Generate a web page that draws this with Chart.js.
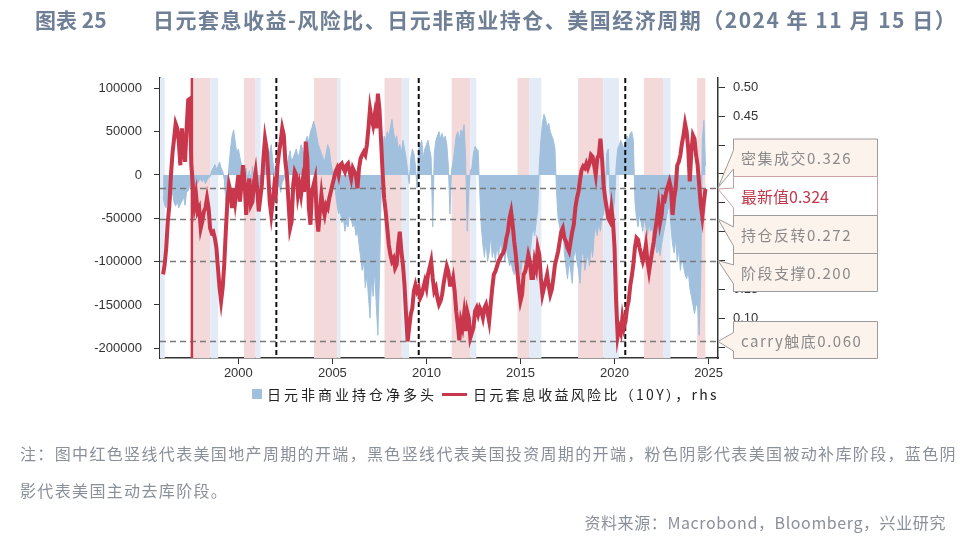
<!DOCTYPE html>
<html><head><meta charset="utf-8">
<script src="https://cdn.jsdelivr.net/npm/chart.js@4.4.0/dist/chart.umd.min.js"></script>
<style>
html,body{margin:0;padding:0;background:#fff;}
#wrap{position:relative;width:979px;height:539px;overflow:hidden;font-family:"Noto Sans CJK SC","Noto Sans",sans-serif;}
#c{position:absolute;left:0;top:0;}
.t{position:absolute;white-space:nowrap;line-height:1;}
</style></head><body>
<div id="wrap">
<canvas id="c" width="979" height="539"></canvas>
<div class="t" style="left:35px;top:9px;font-size:21px;font-weight:700;color:#6e7f96;">图表 25</div>
<div class="t" style="left:153px;top:9px;font-size:21px;font-weight:700;color:#6e7f96;letter-spacing:1.5px;">日元套息收益-风险比、日元非商业持仓、美国经济周期（2024 年 11 月 15 日）</div>
<div class="t" style="left:252px;top:389px;width:10px;height:10px;background:#a0c0de;"></div>
<div class="t" style="left:267px;top:387px;font-size:14px;color:#222;letter-spacing:3px;">日元非商业持仓净多头</div>
<div class="t" style="left:442px;top:393px;width:25px;height:3px;background:#c8374b;"></div>
<div class="t" style="left:473px;top:387px;font-size:14px;color:#222;letter-spacing:2.3px;">日元套息收益风险比（10Y），rhs</div>
<div class="t" style="left:20px;top:445px;font-size:16px;color:#8a9099;letter-spacing:1.35px;">注：图中红色竖线代表美国地产周期的开端，黑色竖线代表美国投资周期的开端，粉色阴影代表美国被动补库阶段，蓝色阴</div>
<div class="t" style="left:20px;top:482px;font-size:16px;color:#8a9099;letter-spacing:1.35px;">影代表美国主动去库阶段。</div>
<div class="t" style="right:33px;top:514px;font-size:16px;color:#8a9099;letter-spacing:0.6px;">资料来源：Macrobond，Bloomberg，兴业研究</div>
</div>
<script>
// ---- data ----
const startYear = 1996; // monthly series starting Jan 1996, ending Nov 2024
const riskRatio = [
0.176,0.193,0.222,0.268,0.296,0.348,0.386,0.411,0.437,0.429,0.406,0.365,
0.429,0.394,0.371,0.429,0.478,0.480,0.365,0.331,0.296,0.314,0.285,0.291,
0.256,0.268,0.285,0.291,0.308,0.291,0.256,0.248,0.250,0.239,0.222,0.187,
0.153,0.130,0.153,0.193,0.250,0.302,0.331,0.319,0.291,0.325,0.302,0.325,
0.348,0.302,0.331,0.365,0.337,0.279,0.319,0.342,0.296,0.302,0.337,0.354,
0.325,0.285,0.308,0.331,0.377,0.411,0.394,0.354,0.302,0.279,0.302,0.331,
0.319,0.365,0.388,0.406,0.429,0.417,0.371,0.348,0.302,0.256,0.268,0.331,
0.354,0.348,0.314,0.331,0.314,0.337,0.319,0.406,0.377,0.291,0.262,0.319,
0.331,0.342,0.279,0.250,0.285,0.314,0.291,0.279,0.296,0.291,0.308,0.319,
0.331,0.342,0.354,0.360,0.348,0.365,0.368,0.360,0.354,0.365,0.368,0.354,
0.342,0.360,0.354,0.348,0.325,0.360,0.377,0.383,0.388,0.383,0.400,0.429,
0.463,0.446,0.434,0.452,0.429,0.489,0.463,0.411,0.354,0.308,0.285,0.256,
0.227,0.210,0.199,0.204,0.187,0.193,0.227,0.250,0.216,0.193,0.158,0.107,
0.060,0.084,0.107,0.118,0.147,0.158,0.147,0.153,0.135,0.141,0.153,0.164,
0.153,0.176,0.187,0.199,0.170,0.147,0.153,0.135,0.124,0.130,0.141,0.161,
0.176,0.190,0.181,0.158,0.158,0.170,0.147,0.112,0.089,0.062,0.095,0.084,
0.107,0.078,0.112,0.101,0.066,0.075,0.084,0.112,0.118,0.107,0.118,0.112,
0.101,0.118,0.124,0.110,0.095,0.124,0.153,0.176,0.181,0.190,0.199,0.204,
0.210,0.213,0.222,0.239,0.250,0.273,0.285,0.262,0.233,0.210,0.181,0.153,
0.130,0.141,0.176,0.181,0.193,0.210,0.199,0.170,0.170,0.199,0.187,0.222,
0.210,0.170,0.141,0.153,0.164,0.176,0.156,0.141,0.150,0.170,0.193,0.204,
0.216,0.233,0.250,0.256,0.239,0.233,0.222,0.216,0.233,0.250,0.262,0.291,
0.308,0.319,0.340,0.357,0.363,0.360,0.368,0.360,0.368,0.383,0.380,0.365,
0.348,0.377,0.383,0.411,0.377,0.331,0.308,0.291,0.273,0.268,0.291,0.268,
0.222,0.130,0.069,0.084,0.075,0.101,0.084,0.095,0.118,0.130,0.156,0.173,
0.193,0.222,0.239,0.236,0.222,0.210,0.199,0.210,0.227,0.199,0.181,0.199,
0.216,0.233,0.253,0.271,0.294,0.265,0.279,0.308,0.305,0.319,0.328,0.337,
0.325,0.279,0.308,0.325,0.365,0.371,0.383,0.403,0.417,0.437,0.423,0.394,
0.337,0.388,0.417,0.411,0.383,0.365,0.331,0.296,0.276,0.302,0.324
];
const netLong = [
-25000,-35000,-38000,-30000,-22000,-28000,-20000,-32000,-36000,-30000,-38000,-34000,
-30000,-25000,-35000,-20000,-18000,-12000,-15000,-10000,-8000,-12000,-10000,-6000,
-5000,-8000,-4000,-10000,-6000,-3000,-2000,5000,8000,12000,7000,10000,
15000,8000,5000,-5000,-30000,-15000,10000,30000,45000,52000,38000,25000,
30000,20000,12000,5000,-5000,8000,-10000,5000,-15000,10000,-8000,-20000,
-15000,-25000,-10000,5000,15000,10000,20000,30000,25000,35000,15000,5000,
-5000,-15000,-10000,-20000,-8000,-5000,5000,10000,20000,28000,15000,20000,
25000,30000,20000,25000,35000,30000,20000,40000,45000,38000,50000,55000,
62000,55000,45000,35000,30000,25000,20000,15000,25000,35000,30000,15000,
5000,-10000,-20000,-35000,-45000,-40000,-55000,-50000,-65000,-55000,-60000,-45000,
-50000,-60000,-55000,-70000,-65000,-80000,-95000,-110000,-100000,-130000,-115000,-140000,
-165000,-120000,-140000,-110000,-150000,-185000,-120000,-30000,30000,45000,40000,50000,
45000,55000,64000,50000,40000,45000,30000,35000,25000,40000,30000,20000,
5000,-10000,20000,30000,25000,10000,-15000,30000,35000,40000,20000,30000,
35000,40000,30000,20000,-60000,25000,40000,45000,50000,42000,48000,40000,
45000,35000,10000,-45000,5000,15000,30000,45000,50000,40000,52000,48000,
58000,20000,-65000,-20000,5000,8000,25000,33000,30000,28000,-20000,-60000,
-80000,-95000,-75000,-100000,-90000,-70000,-95000,-85000,-100000,-80000,-95000,-75000,
-90000,-80000,-100000,-85000,-95000,-105000,-100000,-110000,-115000,-105000,-110000,-100000,
-115000,-100000,-95000,-110000,-90000,-80000,-95000,-75000,-60000,-70000,-55000,-40000,
10000,40000,60000,70000,65000,55000,60000,50000,45000,40000,30000,-20000,
-50000,-60000,-70000,-55000,-90000,-105000,-120000,-100000,-110000,-125000,-95000,-85000,
-100000,-110000,-125000,-95000,-85000,-110000,-100000,-90000,-105000,-80000,-95000,-70000,
-60000,-70000,-55000,-65000,-50000,-45000,-30000,25000,30000,-20000,-35000,-45000,
-30000,10000,30000,35000,40000,35000,30000,38000,45000,40000,48000,50000,
40000,-30000,-50000,-60000,-45000,-55000,-65000,-50000,-60000,-70000,-55000,-65000,
-60000,-75000,-80000,-90000,-85000,-93000,-80000,-70000,-60000,-50000,-40000,-35000,
-60000,-80000,-90000,-75000,-100000,-85000,-110000,-95000,-105000,-115000,-120000,-110000,
-130000,-140000,-150000,-160000,-150000,-150000,-185000,-120000,40000,63000,10000
];
const monthDates = riskRatio.map((_, i) => startYear + i / 12);
const xTickYears = [2000, 2005, 2010, 2015, 2020, 2025];
const leftTicks = [-200000, -150000, -100000, -50000, 0, 50000, 100000];
const rightTicks = [0.05, 0.10, 0.15, 0.20, 0.25, 0.30, 0.35, 0.40, 0.45, 0.50];
const pinkPeriods = [[1997.53,1998.52],[2000.30,2000.92],[2004.02,2005.26],[2007.77,2008.69],[2011.34,2012.33],[2014.84,2015.46],[2018.06,2019.40],[2021.56,2022.58],[2024.39,2024.83]];
const bluePeriods = [[1995.83,1996.09],[1998.52,1998.93],[2000.92,2001.18],[2005.26,2005.43],[2008.69,2009.08],[2012.33,2012.65],[2015.46,2016.11],[2019.40,2020.23],[2022.58,2022.97]];
const redCycleLines = [1997.53];
const blackCycleLines = [2002.02, 2009.59, 2020.57];
const levelLines = [0.326, 0.272, 0.200, 0.060];
const calloutLabels = ['密集成交', '最新值', '持仓反转', '阶段支撑', 'carry触底'];
const calloutValues = [0.326, 0.324, 0.272, 0.200, 0.060];

const RED = '#c8374b', BLUE = '#a0c0de';

const overlay = {
  id: 'overlay',
  beforeDatasetsDraw(chart) {
    const {ctx, chartArea: a, scales: {x}} = chart;
    ctx.save();
    const band = (arr, col) => {
      ctx.fillStyle = col;
      arr.forEach(([s, e]) => {
        const x0 = Math.max(a.left, x.getPixelForValue(s));
        const x1 = Math.min(a.right, x.getPixelForValue(e));
        ctx.fillRect(x0, a.top, x1 - x0, a.bottom - a.top);
      });
    };
    band(pinkPeriods, '#f4d9db');
    band(bluePeriods, '#e3ebf6');
    ctx.restore();
  },
  afterDatasetDraw(chart, args) {
    if (args.index !== 0) return;
    const {ctx, chartArea: a, scales: {x, y1}} = chart;
    ctx.save();
    ctx.beginPath(); ctx.rect(a.left, a.top, a.right - a.left, a.bottom - a.top); ctx.clip();
    ctx.strokeStyle = '#7a7a7a'; ctx.lineWidth = 1.5; ctx.setLineDash([6, 4]);
    levelLines.forEach(v => {
      const yy = Math.round(y1.getPixelForValue(v)) + 0.5;
      ctx.beginPath(); ctx.moveTo(a.left, yy); ctx.lineTo(a.right, yy); ctx.stroke();
    });
    ctx.strokeStyle = '#111'; ctx.lineWidth = 2; ctx.setLineDash([5, 3]);
    blackCycleLines.forEach(v => {
      const xx = x.getPixelForValue(v);
      ctx.beginPath(); ctx.moveTo(xx, a.top); ctx.lineTo(xx, a.bottom); ctx.stroke();
    });
    ctx.setLineDash([]); ctx.strokeStyle = RED; ctx.lineWidth = 2.5;
    redCycleLines.forEach(v => {
      const xx = x.getPixelForValue(v);
      ctx.beginPath(); ctx.moveTo(xx, a.top); ctx.lineTo(xx, a.bottom); ctx.stroke();
    });
    ctx.restore();
  },
  afterDraw(chart) {
    const {ctx, scales: {y1}} = chart;
    const boxes = [[139, 176.5], [176.5, 215.5], [215.5, 253.5], [253.5, 291.5], [321.5, 358.5]];
    const bx0 = 733.5, bx1 = 877.5, tipX = 718;
    ctx.save();
    boxes.forEach(([t, b], i) => {
      const tipY = y1.getPixelForValue(calloutValues[i]);
      const h = b - t;
      const w0 = t + h * 0.3, w1 = b - h * 0.2;
      ctx.beginPath();
      ctx.moveTo(bx0, t); ctx.lineTo(bx1, t); ctx.lineTo(bx1, b); ctx.lineTo(bx0, b);
      ctx.lineTo(bx0, w1); ctx.lineTo(tipX, tipY); ctx.lineTo(bx0, w0); ctx.closePath();
      ctx.fillStyle = i === 1 ? '#ffffff' : '#fcf3ed';
      ctx.fill();
      ctx.lineWidth = 1;
      ctx.strokeStyle = i === 1 ? '#c9a0a8' : '#9c9c9c';
      ctx.stroke();
      const txt = calloutLabels[i] + calloutValues[i].toFixed(3);
      if (i === 1) {
        ctx.font = '16px "Noto Sans CJK SC"'; ctx.fillStyle = '#c0394d';
        try { ctx.letterSpacing = '0px'; } catch (e) {}
      } else {
        ctx.font = '15px "Noto Sans CJK SC"'; ctx.fillStyle = '#8a8a8a';
        try { ctx.letterSpacing = '1.5px'; } catch (e) {}
      }
      ctx.textBaseline = 'middle'; ctx.textAlign = 'left';
      ctx.fillText(txt, 741, (t + b) / 2 + 1);
    });
    ctx.restore();
  }
};

const tickFont = {family: '"Liberation Sans", Arial, sans-serif', size: 13};
new Chart(document.getElementById('c'), {
  type: 'line',
  data: {
    datasets: [
      {
        label: '日元非商业持仓净多头',
        data: netLong.map((v, i) => ({x: monthDates[i], y: v})),
        yAxisID: 'y', order: 1,
        borderColor: BLUE, backgroundColor: BLUE, borderWidth: 1,
        fill: 'origin', pointRadius: 0, tension: 0
      },
      {
        label: '日元套息收益风险比（10Y），rhs',
        data: riskRatio.map((v, i) => ({x: monthDates[i], y: v})),
        yAxisID: 'y1', order: 0,
        borderColor: RED, backgroundColor: RED, borderWidth: 4,
        fill: false, pointRadius: 0, tension: 0, borderJoinStyle: 'miter'
      }
    ]
  },
  options: {
    responsive: false, animation: false, devicePixelRatio: 1,
    layout: {padding: {left: 90, right: 211, top: 78, bottom: 151}},
    plugins: {legend: {display: false}, tooltip: {enabled: false}},
    scales: {
      x: {
        type: 'linear', min: 1995.835, max: 2025.5,
        afterBuildTicks: s => { s.ticks = xTickYears.map(v => ({value: v})); },
        afterFit: s => { s.height = 30; },
        grid: {drawOnChartArea: false, drawTicks: true, tickLength: 6, color: '#333'},
        border: {display: true, color: '#333', width: 1.5},
        ticks: {font: tickFont, color: '#333', padding: 2, maxRotation: 0, callback: v => String(v)}
      },
      y: {
        position: 'left', min: -211190, max: 111885,
        afterBuildTicks: s => { s.ticks = leftTicks.map(v => ({value: v})); },
        afterFit: s => { s.width = 70; },
        grid: {drawOnChartArea: false, drawTicks: true, tickLength: 6, color: '#333'},
        border: {display: true, color: '#333', width: 1.5},
        ticks: {font: tickFont, color: '#333', padding: 12, callback: v => String(v)}
      },
      y1: {
        position: 'right', min: 0.0313, max: 0.5161,
        afterBuildTicks: s => { s.ticks = rightTicks.map(v => ({value: v})); },
        afterFit: s => { s.width = 50; },
        grid: {drawOnChartArea: false, drawTicks: true, tickLength: 7, color: '#333'},
        border: {display: true, color: '#333', width: 1.5},
        ticks: {font: tickFont, color: '#333', padding: 8, callback: v => v.toFixed(2)}
      }
    }
  },
  plugins: [overlay]
});
</script>
</body></html>
